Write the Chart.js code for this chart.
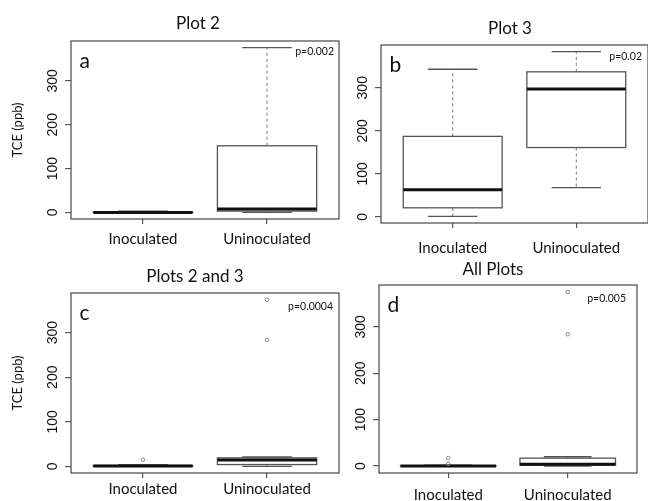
<!DOCTYPE html>
<html>
<head>
<meta charset="utf-8">
<title>TCE box plots</title>
<script src="https://cdn.jsdelivr.net/npm/chart.js@4.4.0/dist/chart.umd.min.js"></script>
<style>
    html, body { margin: 0; padding: 0; background: #fff; overflow: hidden; }
    #wrap { position: relative; width: 648px; height: 501px; }
    #wrap canvas { position: absolute; left: 0; top: 0; }
</style>
</head>
<body>
<div id="wrap">
    <canvas id="panelA" width="648" height="501"></canvas>
    <canvas id="panelB" width="648" height="501"></canvas>
    <canvas id="panelC" width="648" height="501"></canvas>
    <canvas id="panelD" width="648" height="501"></canvas>
</div>
<script>
// --- data -------------------------------------------------------------
const categories = ['Inoculated', 'Uninoculated'];
const yTickValues = [0, 100, 200, 300];
const titles = ['Plot 2', 'Plot 3', 'Plots 2 and 3', 'All Plots'];
const panelLetters = ['a', 'b', 'c', 'd'];
const pValues = ['p=0.002', 'p=0.02', 'p=0.0004', 'p=0.005'];

// [lower whisker, Q1, median, Q3, upper whisker]
const plot2Inoculated = [0, 0, 0, 1, 3];
const plot2Uninoculated = [0, 3, 8, 152, 376];
const plot3Inoculated = [1, 21, 63, 187, 343];
const plot3Uninoculated = [68, 161, 297, 337, 384];
const plots23Inoculated = [0, 0, 0.5, 2, 4];
const plots23Uninoculated = [0, 4, 14, 19, 21];
const allInoculated = [0, 0, 0, 0.5, 2];
const allUninoculated = [0, 2, 4, 17, 20];

// outliers
const plots23InoculatedOutliers = [15];
const plots23UninoculatedOutliers = [284, 374];
const allInoculatedOutliers = [5, 17];
const allUninoculatedOutliers = [284, 375];

// --- layout (page pixels) ---------------------------------------------
const panelBoxes = [
    { left: 71, top: 41, right: 339, bottom: 219, titleX: 198, titleY: 24, pX: 334, pY: 52, xLabelPad: 6 },
    { left: 381, top: 45, right: 648, bottom: 223, titleX: 510, titleY: 29, pX: 642, pY: 57, xLabelPad: 11 },
    { left: 71, top: 293, right: 339, bottom: 473, titleX: 195, titleY: 277, pX: 333, pY: 307, xLabelPad: 2 },
    { left: 379, top: 285, right: 637, bottom: 473, titleX: 493, titleY: 270, pX: 626, pY: 299, xLabelPad: 8 },
];

const panels = [
    { id: 'panelA', stats: [plot2Inoculated, plot2Uninoculated], outliers: [[], []], axisTitle: true },
    { id: 'panelB', stats: [plot3Inoculated, plot3Uninoculated], outliers: [[], []], axisTitle: false },
    { id: 'panelC', stats: [plots23Inoculated, plots23Uninoculated], outliers: [plots23InoculatedOutliers, plots23UninoculatedOutliers], axisTitle: true },
    { id: 'panelD', stats: [allInoculated, allUninoculated], outliers: [allInoculatedOutliers, allUninoculatedOutliers], axisTitle: false },
];

const AXIS_W = 70;
const AXIS_H = 40;
const FRAME = '#555';
const TEXT = '#111';

function makeBoxPlugin(panel, box, index) {
    return {
        id: 'boxPlot',
        beforeDatasetsDraw(chart) {
            const { ctx, scales: { x, y } } = chart;
            const line = (x1, y1, x2, y2) => {
                ctx.beginPath();
                ctx.moveTo(x1, y1);
                ctx.lineTo(x2, y2);
                ctx.stroke();
            };
            panel.stats.forEach((s, i) => {
                const pos = i + 1;
                const left = x.getPixelForValue(pos - 0.4);
                const right = x.getPixelForValue(pos + 0.4);
                const capL = x.getPixelForValue(pos - 0.2);
                const capR = x.getPixelForValue(pos + 0.2);
                const cx = x.getPixelForValue(pos);
                const [lo, q1, med, q3, hi] = s.map((v) => y.getPixelForValue(v));
                ctx.save();
                // whiskers
                ctx.strokeStyle = '#777';
                ctx.lineWidth = 1;
                ctx.setLineDash([3, 3]);
                line(cx, q3, cx, hi);
                line(cx, q1, cx, lo);
                ctx.setLineDash([]);
                ctx.strokeStyle = FRAME;
                ctx.lineWidth = 1.3;
                line(capL, hi, capR, hi);
                line(capL, lo, capR, lo);
                ctx.fillStyle = '#fff';
                ctx.fillRect(left, q3, right - left, q1 - q3);
                ctx.strokeRect(left, q3, right - left, q1 - q3);
                // median
                ctx.strokeStyle = '#111';
                ctx.lineWidth = 3;
                line(left, med, right, med);
                ctx.restore();
            });
        },
        afterDraw(chart) {
            const { ctx, chartArea: ca } = chart;
            ctx.save();
            ctx.strokeStyle = FRAME;
            ctx.lineWidth = 1.3;
            ctx.strokeRect(ca.left, ca.top, ca.right - ca.left, ca.bottom - ca.top);

            ctx.fillStyle = TEXT;
            ctx.textBaseline = 'middle';
            ctx.textAlign = 'center';
            ctx.font = '17px Lato';
            ctx.fillText(titles[index], box.titleX, box.titleY);

            ctx.textAlign = 'left';
            ctx.textBaseline = 'alphabetic';
            ctx.font = '21px Lato';
            ctx.fillText(panelLetters[index], ca.left + 8.5, ca.top + 26.5);

            ctx.textAlign = 'right';
            ctx.textBaseline = 'middle';
            ctx.font = '10.5px Lato';
            ctx.fillText(pValues[index], box.pX, box.pY);
            ctx.restore();
        },
    };
}

function buildPanel(panel, index) {
    const box = panelBoxes[index];
    const all = panel.stats.flat().concat(panel.outliers.flat());
    const lo = Math.min(...all);
    const hi = Math.max(...all);
    const ext = (hi - lo) * 0.04;

    const outlierPoints = panel.outliers.flatMap((vals, i) => vals.map((v) => ({ x: i + 1, y: v })));

    return new Chart(document.getElementById(panel.id), {
        type: 'scatter',
        data: {
            datasets: [{
                data: outlierPoints,
                pointRadius: 1.8,
                pointBorderWidth: 1,
                borderColor: '#888',
                backgroundColor: 'rgba(0,0,0,0)',
            }],
        },
        options: {
            responsive: false,
            animation: false,
            events: [],
            layout: {
                autoPadding: false,
                padding: {
                    left: box.left - AXIS_W,
                    top: box.top,
                    right: 648 - box.right,
                    bottom: 501 - box.bottom - AXIS_H,
                },
            },
            plugins: {
                legend: { display: false },
                tooltip: { enabled: false },
            },
            scales: {
                x: {
                    type: 'linear',
                    min: 0.42,
                    max: 2.58,
                    afterBuildTicks: (axis) => {
                        axis.ticks = categories.map((c, i) => ({ value: i + 1 }));
                    },
                    afterFit: (axis) => { axis.height = AXIS_H; },
                    ticks: {
                        autoSkip: false,
                        maxRotation: 0,
                        padding: box.xLabelPad,
                        color: TEXT,
                        font: { family: 'Lato', size: 15 },
                        callback: (value, i) => categories[i],
                    },
                    grid: { drawOnChartArea: false, tickLength: 5, color: FRAME, lineWidth: 1.2 },
                    border: { display: false },
                },
                y: {
                    type: 'linear',
                    min: lo - ext,
                    max: hi + ext,
                    afterBuildTicks: (axis) => {
                        axis.ticks = yTickValues.map((v) => ({ value: v }));
                    },
                    afterFit: (axis) => { axis.width = AXIS_W; },
                    ticks: {
                        minRotation: 90,
                        maxRotation: 90,
                        crossAlign: 'center',
                        padding: 0,
                        color: TEXT,
                        font: { family: 'Liberation Sans', size: 14 },
                    },
                    grid: { drawOnChartArea: false, tickLength: 6, color: FRAME, lineWidth: 1.2 },
                    border: { display: false },
                    title: {
                        display: panel.axisTitle,
                        text: 'TCE (ppb)',
                        color: TEXT,
                        font: { family: 'Lato', size: 13 },
                        padding: { top: 9, bottom: 0 },
                    },
                },
            },
        },
        plugins: [makeBoxPlugin(panel, box, index)],
    });
}

panels.forEach(buildPanel);
</script>
</body>
</html>
